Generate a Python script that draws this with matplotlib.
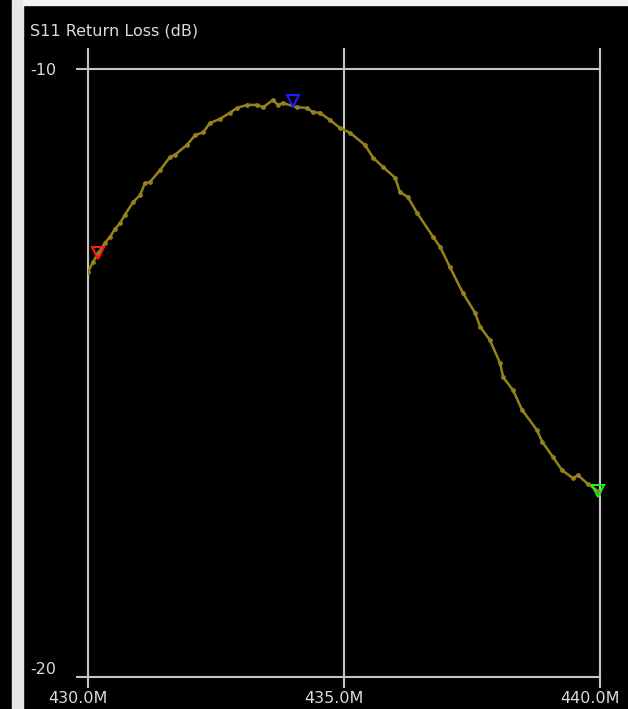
import matplotlib
matplotlib.use("Agg")
import matplotlib.pyplot as plt
import matplotlib.transforms as mtransforms
from matplotlib.patches import Rectangle

# S11 trace (MHz, dB)
freq_mhz = [430.00, 430.10, 430.20, 430.33, 430.43, 430.53, 430.63, 430.72,
            430.88, 431.02, 431.11, 431.21, 431.41, 431.60, 431.70, 431.93,
            432.09, 432.25, 432.38, 432.58, 432.77, 432.91, 433.11, 433.30,
            433.42, 433.61, 433.71, 433.81, 434.08, 434.28, 434.39, 434.53,
            434.73, 434.92, 435.12, 435.41, 435.57, 435.76, 436.00, 436.09,
            436.25, 436.43, 436.74, 436.88, 437.07, 437.32, 437.56, 437.66,
            437.85, 438.05, 438.11, 438.30, 438.48, 438.77, 438.87, 439.08,
            439.26, 439.47, 439.57, 439.77, 439.96, 440.00]
s11_db = [-13.34, -13.17, -13.03, -12.86, -12.76, -12.63, -12.53, -12.40,
          -12.19, -12.07, -11.88, -11.86, -11.66, -11.45, -11.41, -11.25,
          -11.09, -11.04, -10.89, -10.82, -10.72, -10.64, -10.59, -10.59,
          -10.63, -10.51, -10.59, -10.56, -10.63, -10.64, -10.71, -10.72,
          -10.84, -10.97, -11.05, -11.25, -11.46, -11.61, -11.79, -12.02,
          -12.11, -12.37, -12.76, -12.93, -13.26, -13.68, -14.01, -14.24,
          -14.46, -14.84, -15.07, -15.28, -15.61, -15.94, -16.13, -16.38,
          -16.60, -16.73, -16.68, -16.83, -16.94, -16.97]

# markers
marker_freq = [430.20, 434.00, 439.96]
marker_db = [-13.03, -10.53, -16.94]
marker_colors = ['#ff1a1a', '#1a1aff', '#22ee22']

x_ticks = [430, 435, 440]
x_labels = ['430.0M', '435.0M', '440.0M']
y_ticks = [-20, -10]
y_labels = ['-20', '-10']

W, H = 628, 709
fig = plt.figure(figsize=(W / 100, H / 100), dpi=100, facecolor='black')

# window frame bits
fig.patches.append(Rectangle((12 / W, 0), 11 / W, 1, transform=fig.transFigure,
                             color='#e6e6e6', zorder=0))
fig.patches.append(Rectangle((23 / W, 1 - 5 / H), 1 - 23 / W, 5 / H,
                             transform=fig.transFigure, color='#f2f2f2', zorder=0))

ax = fig.add_axes([88 / W, 32 / H, 512 / W, 608 / H], facecolor='black')
grid_col = '#c4c4c4'

ax.plot(freq_mhz, s11_db, color='#94821a', lw=1.8, marker='o', ms=2.4, zorder=3)
for f, d, c in zip(marker_freq, marker_db, marker_colors):
    ax.plot(f, d, marker='v', ms=9, mfc='none', mec=c, mew=1.5, zorder=4,
            clip_on=False)

ax.set_xlim(430, 440)
ax.set_ylim(-20, -10)
ax.set_xticks(x_ticks)
ax.set_xticklabels(x_labels)
ax.set_yticks(y_ticks)
ax.set_yticklabels(y_labels)

for s in ax.spines.values():
    s.set_color(grid_col)
    s.set_linewidth(1.5)
ax.grid(True, axis='x', color=grid_col, lw=1.5)

ax.tick_params(axis='x', bottom=True, top=True, direction='out', length=8,
               width=1.5, color=grid_col, labelcolor='#dadada',
               labelsize=11.5, pad=2)
ax.tick_params(axis='y', left=True, right=False, direction='out', length=8.6,
               width=1.5, color=grid_col, labelcolor='#dadada', labelsize=11.5,
               pad=14)

# top ticks longer than bottom ones
for t in ax.xaxis.get_major_ticks():
    t.tick2line.set_markersize(15)

shift = mtransforms.ScaledTranslation(-10 / 100, 0, fig.dpi_scale_trans)
for lab in ax.get_xticklabels():
    lab.set_transform(lab.get_transform() + shift)
ylabs = ax.get_yticklabels()
ylabs[0].set_va('bottom')

fig.text(30 / W, 1 - 31 / H, 'S11 Return Loss (dB)', color='#dadada',
         fontsize=11.5, ha='left', va='center')

fig.savefig('out.png', dpi=100, facecolor='black')
